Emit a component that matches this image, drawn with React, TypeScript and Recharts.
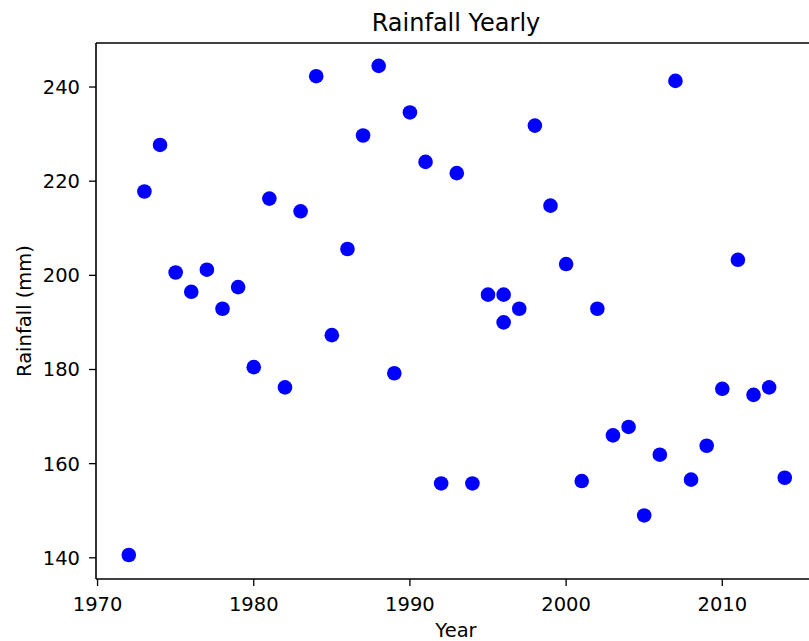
import React from 'react';
import { ScatterChart, Scatter, XAxis, YAxis, ReferenceLine } from 'recharts';

const years = [
  1972, 1973, 1974, 1975, 1976, 1977, 1978, 1979, 1980, 1981, 1982, 1983, 1984, 1985, 1986,
  1987, 1988, 1989, 1990, 1991, 1992, 1993, 1994, 1995, 1996, 1996, 1997, 1998, 1999, 2000,
  2001, 2002, 2003, 2004, 2005, 2006, 2007, 2008, 2009, 2010, 2011, 2012, 2013, 2014,
];
const rainfall = [
  140.6, 217.8, 227.7, 200.6, 196.5, 201.2, 192.9, 197.5, 180.5, 216.3, 176.2, 213.6, 242.3, 187.3, 205.6,
  229.7, 244.5, 179.2, 234.6, 224.1, 155.8, 221.7, 155.8, 195.9, 195.9, 190.0, 192.9, 231.8, 214.8, 202.4,
  156.3, 192.9, 166.0, 167.8, 149.0, 161.9, 241.3, 156.6, 163.8, 175.9, 203.3, 174.6, 176.2, 157.0,
];
const xTicks = [1970, 1980, 1990, 2000, 2010];
const yTicks = [140, 160, 180, 200, 220, 240];
const xDomain = [1969.9, 2016.0];
const yDomain = [135.5, 249.35];

const data = years.map((y, i) => ({ year: y, rain: rainfall[i] }));

const Dot = (props: any) => {
  const { cx, cy } = props;
  if (cx == null || cy == null) return null;
  return <circle cx={cx} cy={cy} r={7.3} fill="#0000ff" />;
};

const YLabel = (props: any) => {
  const vb = props.viewBox || { x: 0, y: 43, width: 96, height: 536 };
  const cx = vb.x + 31;
  const cy = vb.y + vb.height / 2;
  return (
    <text x={cx} y={cy} transform={`rotate(-90 ${cx} ${cy})`} textAnchor="middle" fontSize={19.5} fill="#000">
      Rainfall (mm)
    </text>
  );
};

export default function App() {
  return (
    <div
      style={{
        position: 'absolute',
        left: 0,
        top: 0,
        width: 809,
        height: 641,
        overflow: 'hidden',
        background: '#fff',
        fontFamily: '"DejaVu Sans", sans-serif',
      }}
    >
      <ScatterChart width={820} height={641} margin={{ top: 43, right: 4, bottom: 0, left: 0 }}>
        <XAxis
          dataKey="year"
          type="number"
          domain={xDomain}
          ticks={xTicks}
          interval={0}
          allowDataOverflow
          height={62}
          tickSize={7}
          tickMargin={11}
          axisLine={{ stroke: '#000', strokeWidth: 1.6 }}
          tickLine={{ stroke: '#000', strokeWidth: 1.3 }}
          tick={{ fontSize: 19.5, fill: '#000' }}
          label={{ value: 'Year', position: 'insideBottom', offset: 4, fontSize: 19.5, fill: '#000' }}
        />
        <YAxis
          dataKey="rain"
          type="number"
          domain={yDomain}
          ticks={yTicks}
          interval={0}
          allowDataOverflow
          width={96}
          tickSize={7}
          tickMargin={9}
          axisLine={{ stroke: '#000', strokeWidth: 1.6 }}
          tickLine={{ stroke: '#000', strokeWidth: 1.3 }}
          tick={{ fontSize: 19.5, fill: '#000' }}
          label={{ content: YLabel }}
        />
        <ReferenceLine
          y={yDomain[1]}
          ifOverflow="visible"
          stroke="#000"
          strokeWidth={1.6}
          label={{ value: 'Rainfall Yearly', position: 'top', offset: 12, fontSize: 24, fill: '#000' }}
        />
        <Scatter data={data} shape={Dot} isAnimationActive={false} />
      </ScatterChart>
    </div>
  );
}
